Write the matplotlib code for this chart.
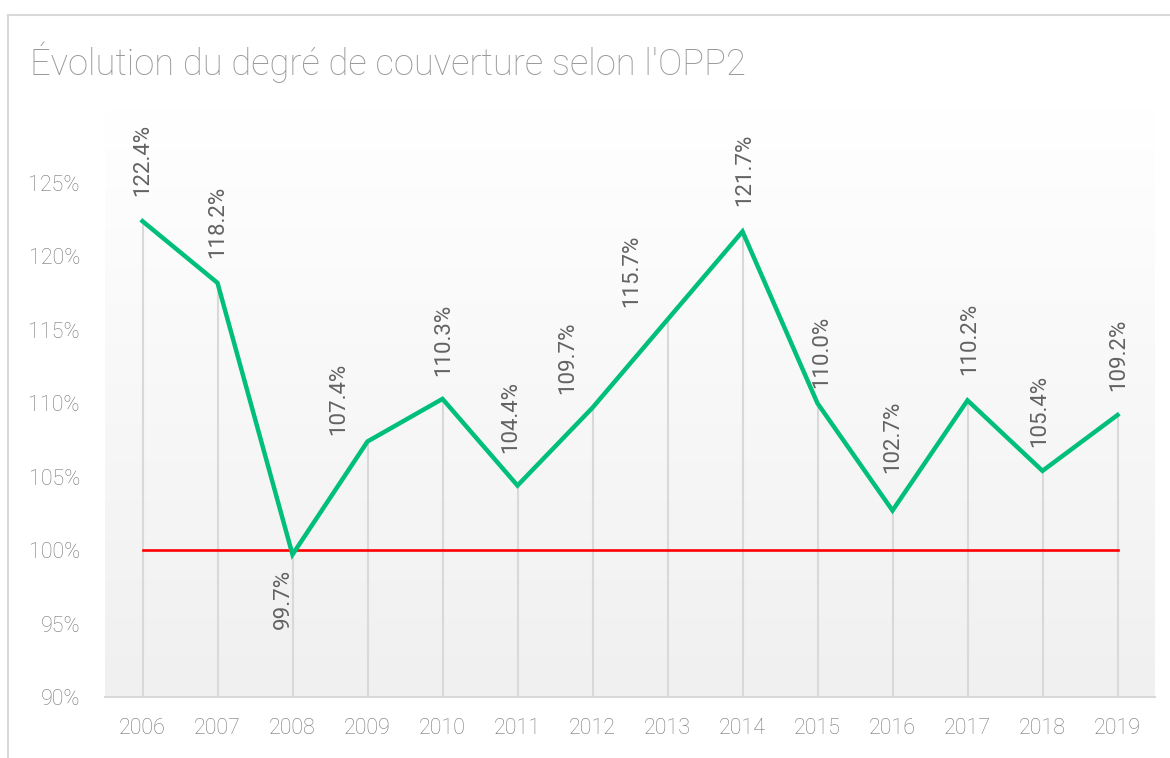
import matplotlib
matplotlib.use('Agg')
import matplotlib.pyplot as plt
import numpy as np
from matplotlib.lines import Line2D

plt.rcParams['font.family'] = ['Roboto', 'DejaVu Sans']

annees = ['2006', '2007', '2008', '2009', '2010', '2011', '2012',
          '2013', '2014', '2015', '2016', '2017', '2018', '2019']
couverture = [122.4, 118.2, 99.7, 107.4, 110.3, 104.4, 109.7,
              115.7, 121.7, 110.0, 102.7, 110.2, 105.4, 109.2]
seuil = [100.0] * len(annees)
yticks = [90, 95, 100, 105, 110, 115, 120, 125]

# decalage des etiquettes (px) : horizontal, distance au point
lab_dx = [0, 0, -9, -29, 1, -7, -25, -36, 2, 4, 0, 2, -3, 1]
lab_gap = [25, 25, 14, 6, 23, 33, 14, 13, 25, 15, 38, 25, 24, 24]

fig = plt.figure(figsize=(11.7, 7.58), dpi=100)
ax = fig.add_axes([105 / 1170, 1 - 697 / 758, 1050 / 1170, (697 - 109.6) / 758])

x = np.arange(len(annees))

# fond en degrade (gris clair en bas -> blanc en haut)
grad = np.linspace(0.0, 1.0, 256).reshape(-1, 1)
cmap = matplotlib.colors.LinearSegmentedColormap.from_list('g', ['#f0f0f0', '#ffffff'])
ax.imshow(grad, extent=(-0.5, len(annees) - 0.5, 90, 130), aspect='auto',
          cmap=cmap, origin='lower', zorder=0)
ax.set_xlim(-0.5, len(annees) - 0.5)
ax.set_ylim(90, 130)

# lignes de projection
ax.vlines(x, 90, couverture, color='#d9d9d9', linewidth=1.5, zorder=1)

ax.plot(x, seuil, color='#ff0000', linewidth=1.9, zorder=2)
ax.plot(x, couverture, color='#00bf7a', linewidth=3.2, zorder=3, solid_joinstyle='miter')

for xi, v, dx, gap in zip(x, couverture, lab_dx, lab_gap):
    if v < 100:
        ax.annotate(f'{v:.1f}%', (xi, v), xytext=(dx * 0.72, -gap * 0.72), textcoords='offset points',
                    rotation=90, ha='center', va='top', fontsize=16, color='#626262')
    else:
        ax.annotate(f'{v:.1f}%', (xi, v), xytext=(dx * 0.72, gap * 0.72), textcoords='offset points',
                    rotation=90, ha='center', va='bottom', fontsize=16, color='#626262')

ax.set_xticks(x)
ax.set_xticklabels(annees)
ax.set_yticks(yticks)
ax.set_yticklabels([f'{t}%' for t in yticks])
ax.tick_params(axis='both', length=0, labelsize=15.5, labelcolor='#767676')
ax.tick_params(axis='y', pad=18)
ax.tick_params(axis='x', pad=15)
for lbl in ax.get_xticklabels() + ax.get_yticklabels():
    lbl.set_fontweight('light')

for s in ['top', 'right', 'left']:
    ax.spines[s].set_visible(False)
ax.spines['bottom'].set_color('#d9d9d9')
ax.spines['bottom'].set_linewidth(1.5)

fig.text(30 / 1170, 1 - 62 / 758, "Évolution du degré de couverture selon l'OPP2",
         fontsize=26.2, color='#999999', va='center', ha='left', fontweight='light')

# cadre du graphique
fig.add_artist(Line2D([8 / 1170, 8 / 1170], [0, 1 - 15 / 758], color='#d9d9d9', linewidth=1.5,
                      transform=fig.transFigure))
fig.add_artist(Line2D([8 / 1170, 1], [1 - 15 / 758, 1 - 15 / 758], color='#d9d9d9', linewidth=1.5,
                      transform=fig.transFigure))

fig.savefig('out.png', dpi=100)
